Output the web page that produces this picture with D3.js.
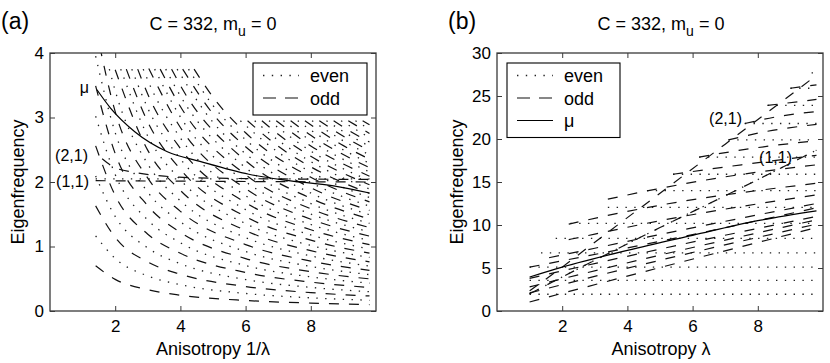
<!DOCTYPE html>
<html><head><meta charset="utf-8">
<script src="https://cdn.jsdelivr.net/npm/d3@7"></script>
<style>
body{margin:0;background:#fff;}
svg text{font-family:"Liberation Sans",Arial,Helvetica,sans-serif;fill:#000;}
</style></head><body>
<svg id="c" width="830" height="363"></svg>
<script>
// ---------- Panel (a): x = 1/lambda ----------
const xTicksA = [2,4,6,8];
const yTicksA = [0,1,2,3,4];
const oddA = [
 [[1.4,0.70],[2,0.49],[3,0.33],[4,0.245],[6,0.163],[8,0.123],[9.8,0.10]],
 [[1.4,1.63],[2,1.14],[3,0.76],[4,0.57],[6,0.38],[8,0.285],[9.8,0.233]],
 [[1.4,2.56],[2,1.79],[3,1.19],[4,0.895],[6,0.597],[8,0.448],[9.8,0.365]],
 [[1.4,3.49],[2,2.44],[3,1.63],[4,1.22],[6,0.813],[8,0.61],[9.8,0.498]],
 [[1.4,4.41],[2,3.09],[3,2.06],[4,1.545],[6,1.03],[8,0.773],[9.8,0.63]],
 [[2.0,3.74],[3,2.49],[4,1.87],[6,1.247],[8,0.935],[9.8,0.763]],
 [[2.34,3.75],[3,2.93],[4,2.195],[6,1.463],[8,1.098],[9.8,0.896]],
 [[2.69,3.75],[3,3.36],[4,2.52],[6,1.68],[8,1.26],[9.8,1.029]],
 [[3.03,3.76],[4,2.845],[6,1.897],[8,1.423],[9.8,1.161]],
 [[3.38,3.75],[4,3.17],[6,2.113],[8,1.585],[9.8,1.294]],
 [[3.73,3.75],[4,3.495],[6,2.33],[8,1.748],[9.8,1.427]],
 [[4.07,3.75],[5,3.056],[6,2.547],[8,1.91],[9.8,1.559]],
 [[4.42,3.75],[5,3.316],[6,2.763],[8,2.073],[9.8,1.692]],
 [[6.06,2.95],[7,2.554],[8,2.235],[9.8,1.824]],
 [[6.5,2.95],[7,2.74],[8,2.398],[9.8,1.957]],
 [[6.94,2.95],[8,2.56],[9.8,2.09]],
 [[7.38,2.95],[8,2.723],[9.8,2.222]],
 [[7.82,2.95],[9,2.564],[9.8,2.355]],
 [[8.26,2.95],[9,2.709],[9.8,2.488]],
 [[8.7,2.95],[9.2,2.79],[9.8,2.62]],
 [[9.15,2.95],[9.8,2.753]],
 [[9.59,2.95],[9.8,2.886]]
];
const evenA = [
 [[1.4,1.164],[2,0.815],[3,0.543],[4,0.408],[6,0.272],[8,0.204],[9.8,0.166]],
 [[1.4,2.093],[2,1.465],[3,0.977],[4,0.733],[6,0.488],[8,0.366],[9.8,0.299]],
 [[1.4,3.02],[2,2.115],[3,1.41],[4,1.058],[6,0.705],[8,0.529],[9.8,0.432]],
 [[1.4,3.95],[2,2.765],[3,1.843],[4,1.383],[6,0.922],[8,0.691],[9.8,0.564]],
 [[1.82,3.75],[2,3.415],[3,2.277],[4,1.708],[6,1.138],[8,0.854],[9.8,0.697]],
 [[2.17,3.75],[3,2.71],[4,2.033],[6,1.355],[8,1.016],[9.8,0.83]],
 [[2.51,3.75],[3,3.143],[4,2.358],[6,1.572],[8,1.179],[9.8,0.962]],
 [[2.86,3.75],[3,3.577],[4,2.683],[6,1.788],[8,1.341],[9.8,1.095]],
 [[3.21,3.75],[4,3.008],[6,2.005],[8,1.504],[9.8,1.228]],
 [[3.55,3.75],[4,3.333],[6,2.222],[8,1.666],[9.8,1.36]],
 [[3.9,3.75],[5,2.926],[6,2.438],[8,1.829],[9.8,1.493]],
 [[4.25,3.75],[5,3.186],[6,2.655],[8,1.991],[9.8,1.626]],
 [[5.84,2.95],[7,2.461],[8,2.154],[9.8,1.758]],
 [[6.28,2.95],[7,2.647],[8,2.316],[9.8,1.891]],
 [[6.72,2.95],[8,2.479],[9.8,2.023]],
 [[7.16,2.95],[8,2.641],[9.8,2.156]],
 [[7.6,2.95],[8,2.804],[9.8,2.289]],
 [[8.04,2.95],[9,2.637],[9.8,2.421]],
 [[8.48,2.95],[9,2.781],[9.8,2.554]],
 [[8.93,2.95],[9.8,2.687]],
 [[9.37,2.95],[9.8,2.819]]
];
const mode11EvenA = [[1.4,2.05],[5,2.05],[9.8,2.05]];
const mode11OddA  = [[1.4,2.02],[5,2.01],[9.8,2.0]];
const mode21OddA  = [[1.6,2.36],[2,2.22],[2.6,2.15],[3.5,2.09],[5,2.06],[9.8,2.04]];
const muA = [[1.44,3.43],[1.85,3.15],[2.6,2.78],[3.6,2.47],[4.6,2.32],[6.1,2.12],[7.2,2.03],[8.7,1.94],[9.8,1.83]];

// ---------- Panel (b): x = lambda ----------
const xTicksB = [2,4,6,8];
const yTicksB = [0,5,10,15,20,25,30];
const evenBLevel = [1.95,3.55,5.1,6.77,8.45,10.2,12.05,14.0,15.9,17.9,19.9,21.8,23.9,25.9,27.7];
const evenBStart = [1.0,1.0,1.0,1.35,1.8,2.25,3.4,4.6,5.4,6.2,7.1,7.6,8.3,9.0,9.65];
const evenBEnd = 9.8;
const oddB = [
 [[1,1.05],[5,5.05],[9.8,9.7]],
 [[1,2.1],[5,5.9],[9.8,10.1]],
 [[1,2.8],[5,6.5],[9.8,10.6]],
 [[1,3.8],[5,7.2],[9.8,11.0]],
 [[1,5.1],[5,8.1],[9.8,12.0]],
 [[1.6,6.2],[3,7.3],[5,8.9],[9.8,12.5]],
 [[2.2,8.3],[3,8.94],[5,10.5],[9.8,13.5]],
 [[2.2,10.1],[3.7,11.35],[5,12.3],[9.8,14.85]],
 [[3.4,13.0],[4.85,14.15],[7,15.6],[9.8,17.0]],
 [[5.4,15.9],[7.5,17.0],[9.8,18.1]],
 [[6.2,17.9],[8,19.0],[9.8,19.8]],
 [[7.1,19.9],[8.3,20.9],[9.8,21.7]],
 [[7.6,21.8],[8.6,22.6],[9.8,23.2]],
 [[8.3,23.9],[9.8,24.6]],
 [[9.0,25.9],[9.8,26.3]]
];
const mode11B = [[1,2.0],[3,5.9],[5,9.7],[7,13.4],[9.8,18.7]];
const mode21B = [[1,2.35],[2,5.1],[3,8.0],[5,13.7],[7,19.4],[9.8,27.4]];
const muB = [[1,3.95],[2,5.1],[4,7.05],[6,8.8],[8,10.5],[9.8,11.65]];

// ---------- drawing ----------
const svg = d3.select("#c");
const defs = svg.append("defs");
const FRAME = "#3a3a3a";
const DASH = "10 10", DOT = "1.4 7.4";

function makePanel(id, left, right, top, bottom, yMax){
  const x = d3.scaleLinear().domain([0,10]).range([left,right]);
  const y = d3.scaleLinear().domain([0,yMax]).range([bottom,top]);
  defs.append("clipPath").attr("id",id).append("rect")
    .attr("x",left).attr("y",top).attr("width",right-left).attr("height",bottom-top);
  const g = svg.append("g");
  const plot = g.append("g").attr("clip-path",`url(#${id})`);
  const line = d3.line().x(d=>x(d[0])).y(d=>y(d[1])).curve(d3.curveMonotoneX);
  return {x,y,g,plot,line,left,right,top,bottom};
}
function drawCurves(p, data, kind){
  const sel = p.plot.append("g").selectAll("path").data(data).join("path")
    .attr("d", p.line).attr("fill","none");
  if(kind==="dash") sel.attr("stroke","#111").attr("stroke-width",1.2).attr("stroke-dasharray",DASH);
  else if(kind==="dot") sel.attr("stroke","#222").attr("stroke-width",1.3).attr("stroke-dasharray",DOT);
  else sel.attr("stroke","#000").attr("stroke-width",1.2);
}
function drawAxes(p, xTicks, yTicks, yPad){
  const fmt = d3.format("~g");
  const st = s => { s.select(".domain").remove(); s.selectAll("line").attr("stroke",FRAME); s.selectAll("text").attr("font-size",17).attr("font-family","Liberation Sans, Arial, sans-serif"); };
  p.g.append("g").attr("transform",`translate(0,${p.bottom})`)
    .call(d3.axisBottom(p.x).tickValues(xTicks).tickFormat(fmt).tickSizeInner(-5).tickSizeOuter(0).tickPadding(9)).call(st);
  p.g.append("g").attr("transform",`translate(0,${p.top})`)
    .call(d3.axisTop(p.x).tickValues(xTicks).tickSizeInner(-5).tickSizeOuter(0).tickFormat("")).call(st);
  p.g.append("g").attr("transform",`translate(${p.left},0)`)
    .call(d3.axisLeft(p.y).tickValues(yTicks).tickFormat(fmt).tickSizeInner(-5).tickSizeOuter(0).tickPadding(yPad)).call(st);
  p.g.append("g").attr("transform",`translate(${p.right},0)`)
    .call(d3.axisRight(p.y).tickValues(yTicks).tickSizeInner(-5).tickSizeOuter(0).tickFormat("")).call(st);
  p.g.append("rect").attr("x",p.left).attr("y",p.top).attr("width",p.right-p.left).attr("height",p.bottom-p.top)
    .attr("fill","none").attr("stroke",FRAME).attr("stroke-width",1.3);
}
function title(cx, panelLabel, plx){
  const t = svg.append("text").attr("x",cx).attr("y",30).attr("text-anchor","middle").attr("font-size",18);
  t.append("tspan").text("C = 332, m");
  t.append("tspan").attr("dy",6).attr("font-size",14).text("u");
  t.append("tspan").attr("dy",-6).text(" = 0");
  svg.append("text").attr("x",plx).attr("y",29).attr("font-size",23).text(panelLabel);
}
function legend(lx, ly, w, items){
  const h = items.length*22.5 + 7;
  svg.append("rect").attr("x",lx).attr("y",ly).attr("width",w).attr("height",h)
    .attr("fill","#fff").attr("stroke","#000").attr("stroke-width",1.1);
  items.forEach((it,i)=>{
    const yy = ly + 12.5 + i*22.5;
    const l = svg.append("line").attr("x1",lx+10).attr("x2",lx+46).attr("y1",yy).attr("y2",yy).attr("fill","none");
    if(it.k==="dot") l.attr("stroke","#222").attr("stroke-width",1.3).attr("stroke-dasharray",DOT);
    else if(it.k==="dash") l.attr("stroke","#111").attr("stroke-width",1.2).attr("stroke-dasharray","13 9");
    else l.attr("stroke","#000").attr("stroke-width",1.2);
    svg.append("text").attr("x",lx+57).attr("y",yy+6.5).attr("font-size",18).text(it.t);
  });
}

// Panel (a)
const pa = makePanel("clipA", 50, 376, 53, 311, 4);
drawCurves(pa, evenA, "dot");
drawCurves(pa, oddA, "dash");
drawCurves(pa, [mode11EvenA], "dot");
drawCurves(pa, [mode11OddA, mode21OddA], "dash");
drawCurves(pa, [muA], "solid");
drawAxes(pa, xTicksA, yTicksA, 6);
title(213, "(a)", 1);
legend(253, 63, 114, [{k:"dot",t:"even"},{k:"dash",t:"odd"}]);
svg.append("text").attr("x",213).attr("y",355).attr("text-anchor","middle").attr("font-size",18).text("Anisotropy 1/λ");
svg.append("text").attr("transform","translate(24,182) rotate(-90)").attr("text-anchor","middle").attr("font-size",18).text("Eigenfrequency");
svg.append("text").attr("x",89).attr("y",93).attr("text-anchor","end").attr("font-size",16).text("μ");
svg.append("text").attr("x",88).attr("y",161).attr("text-anchor","end").attr("font-size",16).text("(2,1)");
svg.append("text").attr("x",89).attr("y",187).attr("text-anchor","end").attr("font-size",16).text("(1,1)");

// Panel (b)
const pb = makePanel("clipB", 497, 823, 53, 311, 30);
const evenB = evenBLevel.map((v,i)=>[[evenBStart[i],v],[evenBEnd,v]]);
drawCurves(pb, evenB, "dot");
drawCurves(pb, oddB, "dash");
drawCurves(pb, [mode11B], "dot");
drawCurves(pb, [mode11B, mode21B], "dash");
drawCurves(pb, [muB], "solid");
drawAxes(pb, xTicksB, yTicksB, 6);
title(661, "(b)", 448);
legend(507, 63, 113, [{k:"dot",t:"even"},{k:"dash",t:"odd"},{k:"solid",t:"μ"}]);
svg.append("text").attr("x",661).attr("y",355).attr("text-anchor","middle").attr("font-size",18).text("Anisotropy λ");
svg.append("text").attr("transform","translate(463,182) rotate(-90)").attr("text-anchor","middle").attr("font-size",18).text("Eigenfrequency");
svg.append("text").attr("x",742).attr("y",124).attr("text-anchor","end").attr("font-size",16).text("(2,1)");
svg.append("text").attr("x",792).attr("y",163).attr("text-anchor","end").attr("font-size",16).text("(1,1)");
</script>
</body></html>
